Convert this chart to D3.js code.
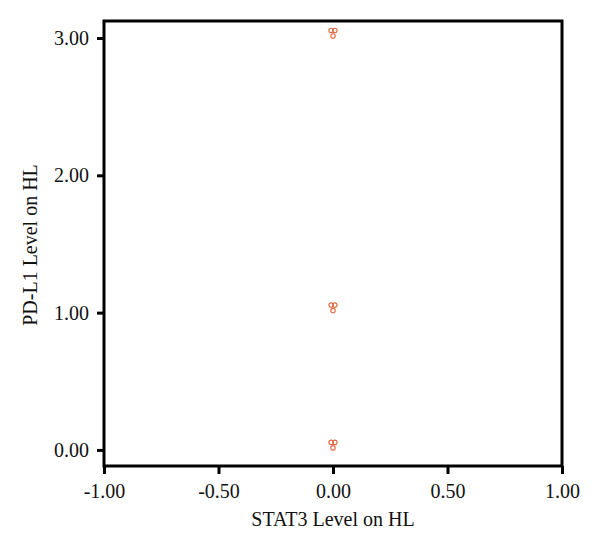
<!DOCTYPE html>
<html><head><meta charset="utf-8">
<script src="https://cdn.jsdelivr.net/npm/d3@7"></script>
<style>body{margin:0;background:#fff}svg{display:block}</style>
</head><body>
<script>
const xValues = [-0.008, 0.008, 0.0, -0.008, 0.008, 0.0, -0.008, 0.008, 0.0];
const yValues = [3.055, 3.055, 3.015, 1.055, 1.055, 1.015, 0.055, 0.055, 0.015];
const xTicks = [-1, -0.5, 0, 0.5, 1];
const yTicks = [0, 1, 2, 3];
const xTitle = "STAT3 Level on HL";
const yTitle = "PD-L1 Level on HL";

const W = 600, H = 546;
const L = 104, R = 562, T = 21, B = 466;
const svg = d3.select("body").append("svg").attr("width", W).attr("height", H);
const x = d3.scaleLinear().domain([-1, 1]).range([L, R]);
const y = d3.scaleLinear().domain([-0.117, 3.124]).range([B, T]);
const font = "'Liberation Serif', 'Times New Roman', serif";
const fmt = d => d.toFixed(2);

// frame
svg.append("rect").attr("x", L).attr("y", T).attr("width", R - L).attr("height", B - T)
  .attr("fill", "none").attr("stroke", "#000").attr("stroke-width", 3);

const xa = svg.append("g").attr("transform", `translate(0,${B})`)
  .call(d3.axisBottom(x).tickValues(xTicks).tickFormat(fmt).tickSize(8).tickSizeOuter(0).tickPadding(10));
const ya = svg.append("g").attr("transform", `translate(${L},0)`)
  .call(d3.axisLeft(y).tickValues(yTicks).tickFormat(fmt).tickSize(7).tickSizeOuter(0).tickPadding(8));
[xa, ya].forEach(g => {
  g.select(".domain").remove();
  g.selectAll(".tick line").attr("stroke", "#000").attr("stroke-width", 3);
  g.selectAll(".tick text").attr("font-family", font).attr("font-size", 20).attr("fill", "#111");
});

svg.append("text").attr("x", (L + R) / 2).attr("y", 526).attr("text-anchor", "middle")
  .attr("font-family", font).attr("font-size", 20).attr("fill", "#111").text(xTitle);
svg.append("text").attr("transform", `translate(37,245) rotate(-90)`).attr("text-anchor", "middle")
  .attr("font-family", font).attr("font-size", 20).attr("fill", "#111").text(yTitle);

svg.append("g").selectAll("circle").data(xValues.map((v, i) => [v, yValues[i]])).join("circle")
  .attr("cx", d => x(d[0])).attr("cy", d => y(d[1])).attr("r", 2.2)
  .attr("fill", "none").attr("stroke", "#e0704a").attr("stroke-width", 1.2);
</script>
</body></html>
